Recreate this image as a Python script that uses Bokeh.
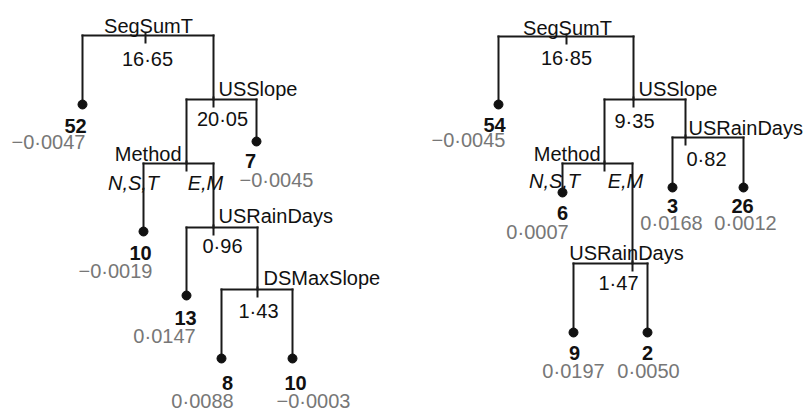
from bokeh.plotting import figure
from bokeh.models import Range1d
from bokeh.embed import file_html
from bokeh.resources import INLINE
from bokeh.core.properties import value

# ---------------- data ----------------
# Tree 1 (left)
t1_split_var = ["SegSumT", "USSlope", "Method", "USRainDays", "DSMaxSlope"]
t1_split_val = ["16·65", "20·05", "", "0·96", "1·43"]
t1_children = [("l0", "n1"), ("n2", "l1"), ("l2", "n3"), ("l3", "n4"), ("l4", "l5")]
t1_leaf_n = [52, 7, 10, 13, 8, 10]
t1_leaf_mean = [-0.0047, -0.0045, -0.0019, 0.0147, 0.0088, -0.0003]

# Tree 2 (right)
t2_split_var = ["SegSumT", "USSlope", "Method", "USRainDays", "USRainDays"]
t2_split_val = ["16·85", "9·35", "", "0·82", "1·47"]
t2_children = [("l0", "n1"), ("n2", "n3"), ("l1", "n4"), ("l2", "l3"), ("l4", "l5")]
t2_leaf_n = [54, 6, 3, 26, 9, 2]
t2_leaf_mean = [-0.0045, 0.0007, 0.0168, 0.0012, 0.0197, 0.0050]

method_levels = ["N,S,T", "E,M"]

# ---------------- layout (tree units) ----------------
L1 = dict(
    node_x=[145, 213, 186, 213, 257], node_y=[35, 99, 163, 227, 289],
    leaf_x=[82, 256, 143, 186, 221, 292], leaf_y=[104, 141, 231, 295, 358, 358],
    var_off=[(3, -10, "center"), (5, -11, "left"), (-5, -10, "right"), (5, -12, "left"), (6, -12, "left")],
    val_off=[(2, 23), (9, 19), None, (9, 18), (1, 21)],
    cat_off=[(-53, 19), (19, 19)],
    n_off=[(-7, 21), (-6, 19), (-3, 21), (-1, 22), (6, 24), (3, 24)],
    m_off=[(-34, 37), (20, 38), (-28, 39), (-22, 40), (-19, 42), (21, 42)],
)
L2 = dict(
    node_x=[166, 233, 204, 285, 232], node_y=[36, 99, 163, 137, 263],
    leaf_x=[98, 162, 272, 343, 173, 247], leaf_y=[104, 192, 187, 187, 332, 332],
    var_off=[(1, -9, "center"), (5, -11, "left"), (-4, -10, "right"), (3, -10, "left"), (-6, -11, "center")],
    val_off=[(0, 21), (1, 21), None, (21, 21), (-14, 19)],
    cat_off=[(-50, 17), (21, 17)],
    n_off=[(-4, 20), (0, 20), (0, 18), (-1, 18), (1, 20), (0, 20)],
    m_off=[(-30, 35), (-25, 39), (-1, 35), (2, 35), (0, 38), (1, 38)],
)

FONT = value("Liberation Sans")
FS = "20px"

p = figure(width=806, height=412, output_backend="svg", toolbar_location=None,
           x_range=Range1d(0, 806), y_range=Range1d(412, 0),
           min_border=0, outline_line_color=None)
p.axis.visible = False
p.grid.visible = False
p.background_fill_color = "white"
p.border_fill_color = "white"


def fmt(v):
    return f"{v:.4f}".replace(".", "·").replace("-", "−")


def draw_tree(ox, split_var, split_val, children, leaf_n, leaf_mean, L):
    nx = [ox + v for v in L["node_x"]]
    ny = L["node_y"]
    lx = [ox + v for v in L["leaf_x"]]
    ly = L["leaf_y"]

    def pos(ref):
        i = int(ref[1:])
        return (nx[i], ny[i]) if ref[0] == "n" else (lx[i], ly[i])

    x0, y0, x1, y1 = [], [], [], []
    for i, (a, b) in enumerate(children):
        ax, ay = pos(a)
        bx, by = pos(b)
        x0.append(ax); y0.append(ny[i]); x1.append(bx); y1.append(ny[i])
        for cx, cy in ((ax, ay), (bx, by)):
            x0.append(cx); y0.append(ny[i]); x1.append(cx); y1.append(cy)
        x0.append(nx[i]); y0.append(ny[i] - 2); x1.append(nx[i]); y1.append(ny[i] + 7)
    p.segment(x0, y0, x1, y1, line_color="#1a1a1a", line_width=2, line_cap="square")
    p.scatter(lx, ly, size=9, color="#111111")

    # variable labels
    for align in ("left", "center", "right"):
        xs, ys, ts = [], [], []
        for i, name in enumerate(split_var):
            dx, dy, al = L["var_off"][i]
            if al == align:
                xs.append(nx[i] + dx); ys.append(ny[i] + dy); ts.append(name)
        if ts:
            p.text(xs, ys, text=ts, text_align=align, text_baseline="middle",
                   text_font=FONT, text_font_size=FS, text_color="#111111")
    # split values
    xs, ys, ts = [], [], []
    for i, v in enumerate(split_val):
        if v:
            dx, dy = L["val_off"][i]
            xs.append(nx[i] + dx); ys.append(ny[i] + dy); ts.append(v)
        else:
            for k, lev in enumerate(method_levels):
                dx, dy = L["cat_off"][k]
                p.text([nx[i] + dx], [ny[i] + dy], text=[lev], text_align="center",
                       text_baseline="middle", text_font=FONT, text_font_size=FS,
                       text_font_style="italic", text_color="#111111")
    p.text(xs, ys, text=ts, text_align="center", text_baseline="middle",
           text_font=FONT, text_font_size=FS, text_color="#111111")
    # leaf n
    p.text([lx[j] + L["n_off"][j][0] for j in range(len(lx))],
           [ly[j] + L["n_off"][j][1] for j in range(len(lx))],
           text=[str(n) for n in leaf_n], text_align="center", text_baseline="middle",
           text_font=FONT, text_font_size=FS, text_font_style="bold", text_color="#111111")
    # leaf mean
    p.text([lx[j] + L["m_off"][j][0] for j in range(len(lx))],
           [ly[j] + L["m_off"][j][1] for j in range(len(lx))],
           text=[fmt(m) for m in leaf_mean], text_align="center", text_baseline="middle",
           text_font=FONT, text_font_size=FS, text_color="#777777")


draw_tree(0, t1_split_var, t1_split_val, t1_children, t1_leaf_n, t1_leaf_mean, L1)
draw_tree(400, t2_split_var, t2_split_val, t2_children, t2_leaf_n, t2_leaf_mean, L2)

open("out.html", "w").write(file_html(p, INLINE))
